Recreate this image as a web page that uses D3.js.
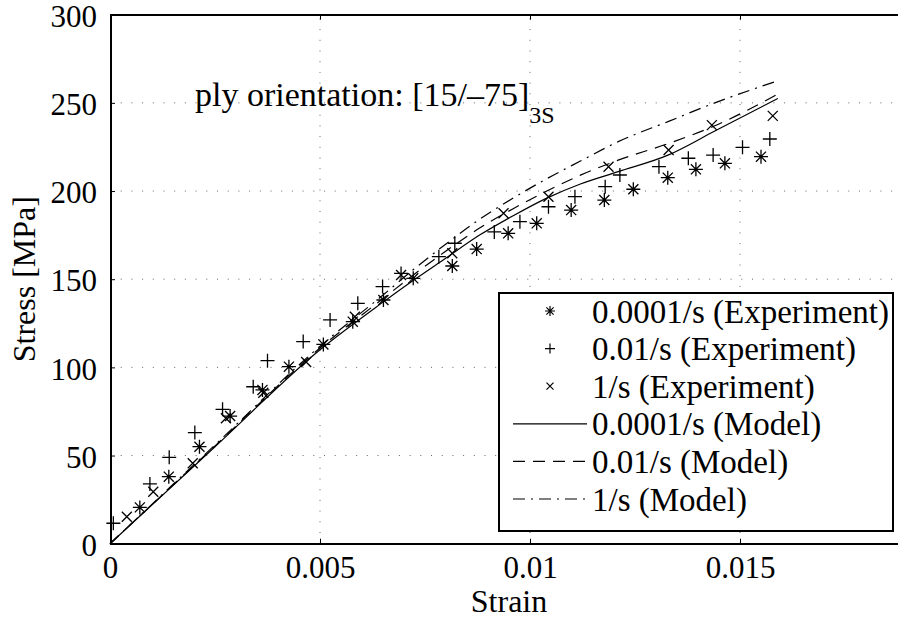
<!DOCTYPE html>
<html>
<head>
<meta charset="utf-8">
<script src="https://cdn.jsdelivr.net/npm/d3@7"></script>
<style>
  body { margin: 0; background: #fff; }
  text { font-family: "Liberation Serif", "Times New Roman", serif; fill: #000; }
</style>
</head>
<body>
<div id="chart"></div>
<script>
// Experiment, 0.0001/s (star markers)
const strainSlow = [0.00071, 0.0014, 0.00213, 0.00286, 0.00363, 0.00426, 0.00508, 0.00578, 0.00651, 0.00722,
                    0.00815, 0.00873, 0.00948, 0.01016, 0.01098, 0.01177, 0.01246, 0.01328, 0.01395, 0.01464, 0.0155];
const stressSlow = [20.6, 38, 55, 72.4, 87.2, 100.4, 113, 125.9, 138.2, 150.5,
                    157.5, 167.1, 176, 181.7, 189.2, 194.9, 201, 207.6, 212.3, 215.7, 219.5];

// Experiment, 0.01/s (plus markers)
const strainMid = [0.00008, 0.00095, 0.00141, 0.00202, 0.00268, 0.00341, 0.00375, 0.0046, 0.00524, 0.0059,
                   0.00649, 0.00693, 0.00783, 0.00821, 0.00915, 0.00976, 0.01044, 0.01107, 0.01179, 0.01214,
                   0.01307, 0.01377, 0.01436, 0.01506, 0.01571];
const stressMid = [11.6, 33.9, 49, 63, 76.2, 89, 103.8, 114.6, 126.9, 136.3,
                   145.8, 153.3, 162.8, 170.4, 176.8, 182.6, 191.1, 196.8, 202.5, 209.1,
                   213.8, 218.6, 220.4, 224.8, 229.5];

// Experiment, 1/s (cross markers)
const strainFast = [0.0004, 0.00103, 0.00197, 0.00276, 0.00365, 0.00467, 0.00583, 0.00693, 0.00815,
                    0.00937, 0.01044, 0.01187, 0.0133, 0.01433, 0.01578];
const stressFast = [15.3, 29.5, 45.6, 71.1, 85.6, 103, 128.7, 152.4, 164.7,
                    187.4, 196.8, 213.8, 223.3, 237.4, 242.6];

// Model curves
const modelStrain = [0, 0.0025, 0.005, 0.0065, 0.0072, 0.008, 0.0088, 0.0096, 0.0104, 0.0112, 0.0121, 0.0133, 0.0144, 0.0159];
const modelSlow   = [0, 55, 110, 137, 149, 162, 175, 186, 196, 204, 211, 220.5, 234, 252.5];
const modelMid    = [0, 55.5, 111, 139, 152, 166, 179, 190, 200, 209, 217.5, 227, 237, 255];
const modelFast   = [0, 56, 112, 141, 155, 170, 184, 196, 207, 217, 228, 239.5, 250, 262.5];

const xTicks = [0, 0.005, 0.01, 0.015];
const xTickLabels = ["0", "0.005", "0.01", "0.015"];
const yTicks = [0, 50, 100, 150, 200, 250, 300];

const legendLabels = ["0.0001/s (Experiment)", "0.01/s (Experiment)", "1/s (Experiment)",
                      "0.0001/s (Model)", "0.01/s (Model)", "1/s (Model)"];

const W = 898, H = 619;
const pLeft = 110, pTop = 14.7, pRight = 908, pBottom = 543.7;

const svg = d3.select("#chart").append("svg")
    .attr("width", W)
    .attr("height", H);

const x = d3.scaleLinear().domain([0, 0.019]).range([pLeft, pRight]);
const y = d3.scaleLinear().domain([0, 300]).range([pBottom, pTop]);

// dotted grid
const grid = svg.append("g")
    .attr("stroke", "#666")
    .attr("stroke-width", 1)
    .attr("stroke-dasharray", "1,9.7");
grid.selectAll(".gx").data(xTicks.slice(1)).enter().append("line")
    .attr("x1", d => x(d)).attr("x2", d => x(d))
    .attr("y1", pBottom).attr("y2", pTop);
grid.selectAll(".gy").data(yTicks.slice(1, -1)).enter().append("line")
    .attr("x1", pLeft).attr("x2", pRight)
    .attr("y1", d => y(d)).attr("y2", d => y(d));

// axes (ticks point inward)
svg.append("g")
    .attr("transform", `translate(0,${pBottom})`)
    .call(d3.axisBottom(x).tickValues(xTicks).tickSize(-5).tickPadding(12).tickFormat((d, i) => xTickLabels[i]))
    .call(g => g.select(".domain").attr("stroke-width", 2))
    .call(g => g.selectAll("text").attr("font-size", 31).attr("font-family", "Liberation Serif").attr("dy", "0.72em"));
svg.append("g")
    .attr("transform", `translate(0,${pTop})`)
    .call(d3.axisTop(x).tickValues(xTicks).tickSize(-5).tickFormat(""))
    .call(g => g.select(".domain").attr("stroke-width", 2));
svg.append("g")
    .attr("transform", `translate(${pLeft},0)`)
    .call(d3.axisLeft(y).tickValues(yTicks).tickSize(-5).tickPadding(13))
    .call(g => g.select(".domain").attr("stroke-width", 2))
    .call(g => g.selectAll("text").attr("font-size", 31).attr("font-family", "Liberation Serif").attr("dy", "0.38em"));
svg.selectAll(".domain").attr("shape-rendering", "crispEdges");

// axis titles
svg.append("text")
    .attr("x", (pLeft + pRight) / 2).attr("y", 612)
    .attr("text-anchor", "middle").attr("font-size", 32)
    .text("Strain");
svg.append("text")
    .attr("transform", `translate(35,${(pTop + pBottom) / 2}) rotate(-90)`)
    .attr("text-anchor", "middle").attr("font-size", 32)
    .text("Stress [MPa]");

// annotation
const note = svg.append("text").attr("x", 195).attr("y", 106).attr("font-size", 34);
note.append("tspan").text("ply orientation: [15/\u201375]");
note.append("tspan").attr("font-size", 24).attr("dy", 17).text("3S");

// model lines
const line = d3.line().curve(d3.curveMonotoneX).x(d => x(d[0])).y(d => y(d[1]));
const models = [
    { vals: modelSlow, dash: null },
    { vals: modelMid, dash: "12,8" },
    { vals: modelFast, dash: "12,6,2,6" }
];
models.forEach(m => {
    svg.append("path")
        .datum(modelStrain.map((s, i) => [s, m.vals[i]]))
        .attr("d", line)
        .attr("fill", "none")
        .attr("stroke", "#000")
        .attr("stroke-width", 1.2)
        .attr("stroke-dasharray", m.dash);
});

// marker shapes
function starPath(r) {
    const a = r * 0.72;
    return `M${-r},0H${r}M0,${-r}V${r}M${-a},${-a}L${a},${a}M${-a},${a}L${a},${-a}`;
}
function plusPath(r) { return `M${-r},0H${r}M0,${-r}V${r}`; }
function crossPath(r) { return `M${-r},${-r}L${r},${r}M${-r},${r}L${r},${-r}`; }

function drawMarkers(xs, ys, path) {
    svg.append("g").selectAll("path")
        .data(xs.map((s, i) => [s, ys[i]]))
        .enter().append("path")
        .attr("transform", d => `translate(${x(d[0])},${y(d[1])})`)
        .attr("d", path)
        .attr("fill", "none")
        .attr("stroke", "#000")
        .attr("stroke-width", 1.3);
}
drawMarkers(strainSlow, stressSlow, starPath(7));
drawMarkers(strainMid, stressMid, plusPath(7));
drawMarkers(strainFast, stressFast, crossPath(5));

// legend
const lg = svg.append("g");
lg.append("rect")
    .attr("x", 499).attr("y", 293).attr("width", 394).attr("height", 238)
    .attr("fill", "#fff").attr("stroke", "#000").attr("stroke-width", 2);
const rowY = d3.scaleLinear().domain([0, 5]).range([311, 499]);
const legendMarks = [starPath(5), plusPath(5), crossPath(3.5)];
legendLabels.forEach((lab, i) => {
    const cy = rowY(i);
    if (i < 3) {
        lg.append("path")
            .attr("transform", `translate(550,${cy})`)
            .attr("d", legendMarks[i])
            .attr("fill", "none").attr("stroke", "#000").attr("stroke-width", 1.2);
    } else {
        lg.append("line")
            .attr("x1", 513).attr("x2", 587).attr("y1", cy).attr("y2", cy)
            .attr("stroke", "#000").attr("stroke-width", 1.2)
            .attr("stroke-dasharray", models[i - 3].dash);
    }
    lg.append("text")
        .attr("x", 592).attr("y", cy).attr("dy", "0.35em")
        .attr("font-size", 33)
        .text(lab);
});
</script>
</body>
</html>
